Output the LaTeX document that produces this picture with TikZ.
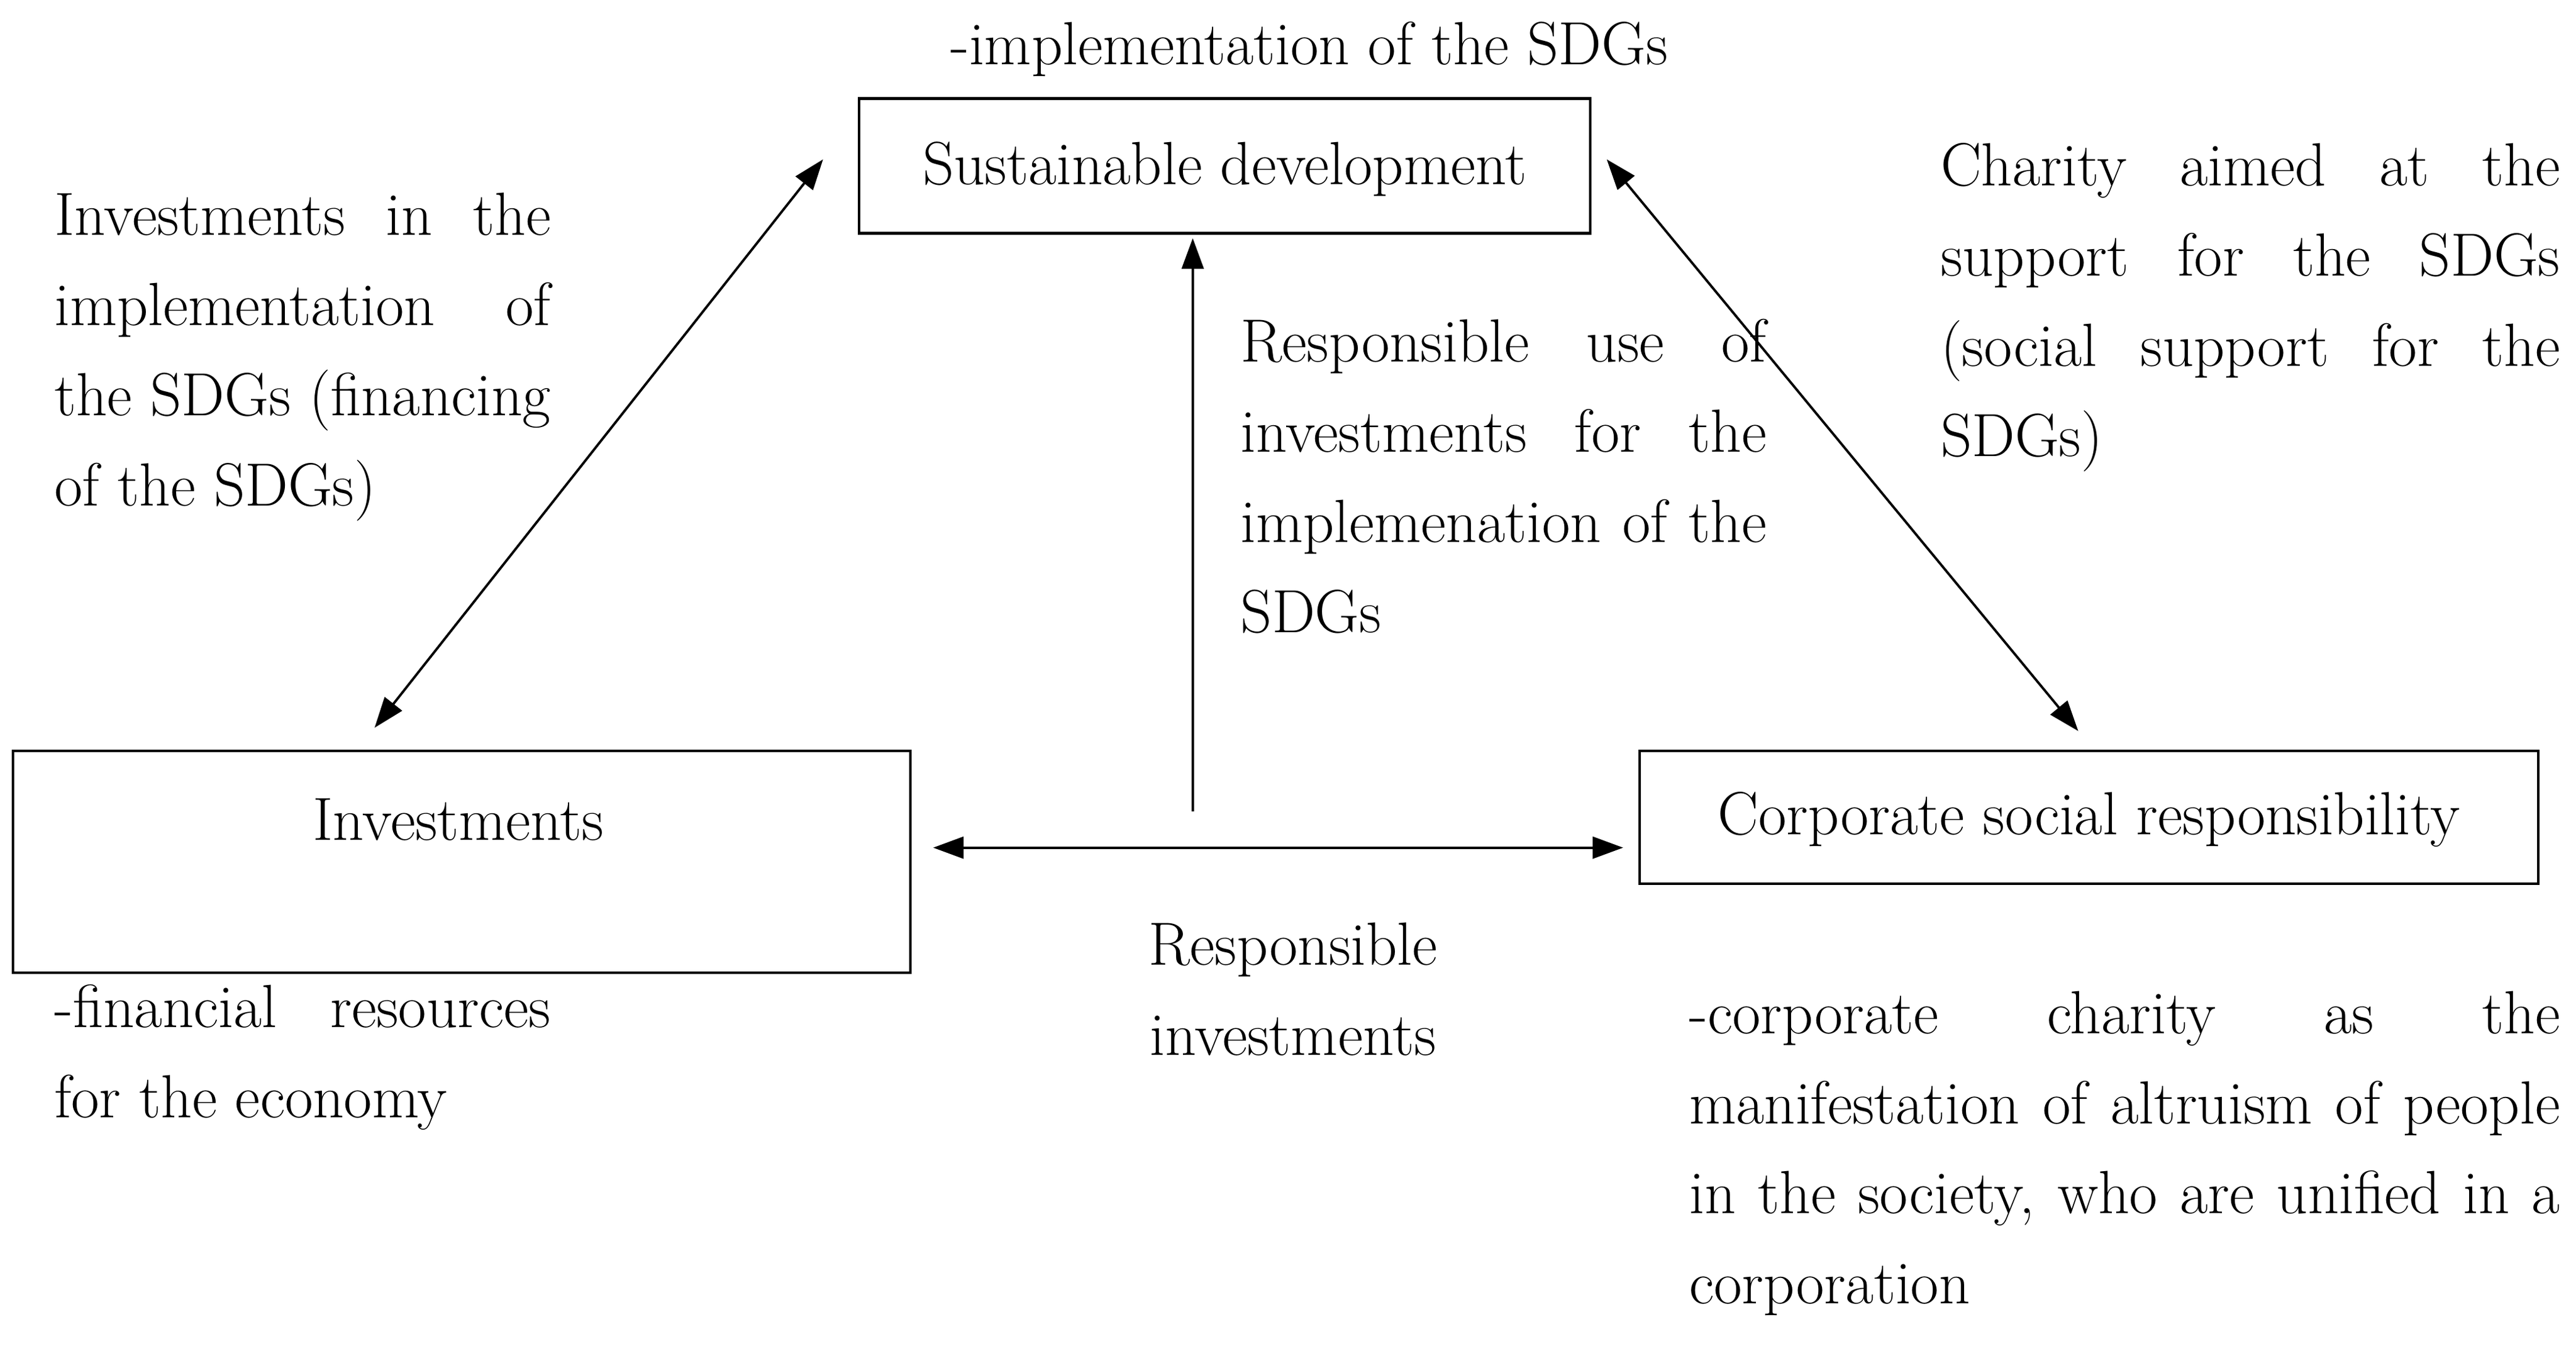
\documentclass[tikz,border=0pt]{standalone}
\usetikzlibrary{arrows.meta}
\hyphenpenalty=10000
\begin{document}
\begin{tikzpicture}[x=0.0265cm,y=-0.0265cm,
  every node/.style={font=\fontsize{28}{41.4}\selectfont},
  box/.style={draw,line width=1.2pt,inner sep=0},
  blk/.style={anchor=north west,align=justify,inner sep=0},
  arr/.style={line width=1.1pt,-{Triangle[length=14pt,width=10pt]}},
  darr/.style={line width=1.1pt,{Triangle[length=14pt,width=10pt]}-{Triangle[length=14pt,width=10pt]}}]
\useasboundingbox (0,0) rectangle (1568,819);
\node[box,minimum width=445*0.0265cm,minimum height=82*0.0265cm] (sd) at (745.5,101) {};
\node (sdt) at (745.5,103) {Sustainable development};
\node[box,minimum width=546*0.0265cm,minimum height=135*0.0265cm] (inv) at (281,524.5) {};
\node (invt) at (279,499) {Investments};
\node[box,minimum width=547*0.0265cm,minimum height=81*0.0265cm] (csr) at (1271.5,497.5) {};
\node (csrt) at (1271.5,499) {Corporate social responsibility};
\node (impl) at (797,30) {-implementation of the SDGs};
\node[blk,text width=302*0.0265cm] (lb) at (33,117) {Investments in the\linebreak implementation of\linebreak the SDGs (financing\linebreak of the SDGs)};
\node[blk,text width=320*0.0265cm] (mb) at (755,194) {Responsible use of\linebreak investments for the\linebreak implemenation of the\linebreak SDGs};
\node[blk,text width=377*0.0265cm] (rb) at (1181,87) {Charity aimed at the\linebreak support for the SDGs\linebreak (social support for the\linebreak SDGs)};
\node[align=center,inner sep=0] (ri) at (787,602) {Responsible\\investments};
\node[blk,text width=302*0.0265cm] (bl) at (33,599) {-financial resources\linebreak for the economy};
\node[blk,text width=530*0.0265cm] (br) at (1028,603) {-corporate charity as the\linebreak manifestation of altruism of people\linebreak in the society, who are unified in a\linebreak corporation};
\coordinate (a1) at (501,97); \coordinate (a2) at (228,443);
\coordinate (b1) at (978,97); \coordinate (b2) at (1265,445);
\coordinate (c1) at (726,494); \coordinate (c2) at (726,145);
\coordinate (d1) at (568,516); \coordinate (d2) at (988,516);
\draw[darr] (a1) -- (a2);
\draw[darr] (b1) -- (b2);
\draw[arr] (c1) -- (c2);
\draw[darr] (d1) -- (d2);
\end{tikzpicture}
\end{document}
